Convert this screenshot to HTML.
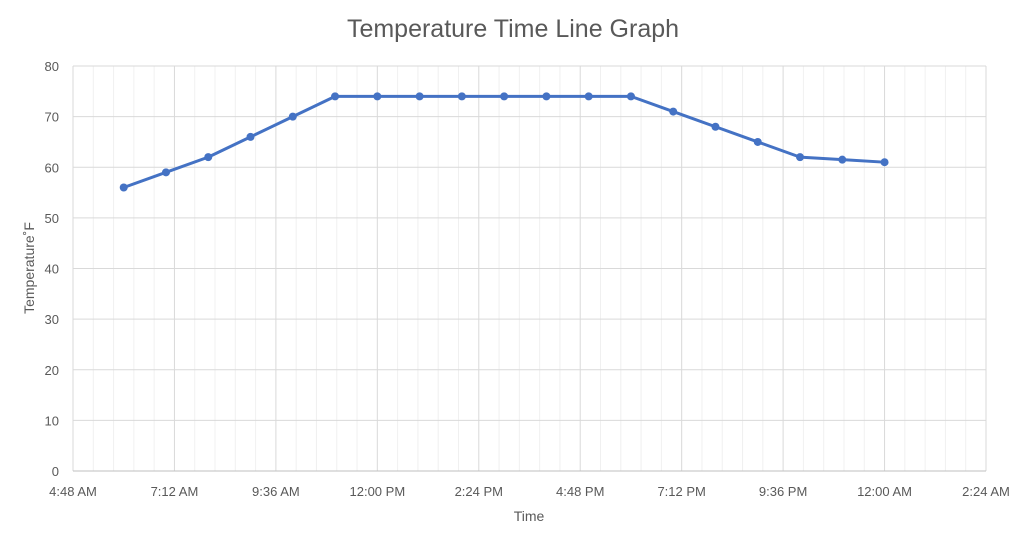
<!DOCTYPE html>
<html><head><meta charset="utf-8"><style>
body{margin:0;background:#fff;}
svg{display:block;font-family:"Liberation Sans",sans-serif;}
</style></head><body>
<svg id="chart" width="1025" height="543">
<text x="513" y="37" text-anchor="middle" font-size="25" fill="#595959">Temperature Time Line Graph</text>
<g id="grid"></g><g id="axes"></g><g id="series"></g>
<text x="529" y="521" text-anchor="middle" font-size="14" fill="#595959">Time</text>
<text transform="translate(34,268) rotate(-90)" text-anchor="middle" font-size="14" fill="#595959">Temperature˚F</text>
</svg>
<script>
const times=[360,420,480,540,600,660,720,780,840,900,960,1020,1080,1140,1200,1260,1320,1380,1440]; // minutes from midnight
const temps=[56,59,62,66,70,74,74,74,74,74,74,74,74,71,68,65,62,61.5,61];
const xTickLabels=["4:48 AM","7:12 AM","9:36 AM","12:00 PM","2:24 PM","4:48 PM","7:12 PM","9:36 PM","12:00 AM","2:24 AM"];
const yTicks=[0,10,20,30,40,50,60,70,80];
const NS="http://www.w3.org/2000/svg";
const X0=73,X1=986,Y0=471,Y1=66,tMin=288,tMax=288+144*9;
const xs=t=>X0+(t-tMin)/(tMax-tMin)*(X1-X0);
const ys=v=>Y0-(v/80)*(Y0-Y1);
function mk(tag,attrs,parent){const e=document.createElementNS(NS,tag);for(const k in attrs)e.setAttribute(k,attrs[k]);parent.appendChild(e);return e;}
const grid=document.getElementById('grid'),axes=document.getElementById('axes'),series=document.getElementById('series');
for(let i=0;i<=45;i++){const t=tMin+i*28.8;const x=xs(t);const major=i%5===0;
 const l=mk('line',{x1:x,x2:x,y1:Y1,y2:Y0,stroke:major?'#d9d9d9':'#f0f0f0','stroke-width':1},grid);
 
 }
yTicks.forEach(v=>{const y=ys(v);
 const l=mk('line',{x1:X0,x2:X1,y1:y,y2:y,stroke:v===0?'#bfbfbf':'#d9d9d9','stroke-width':1},grid);
 
 
 const t=mk('text',{x:X0-14,y:y+5,'text-anchor':'end','font-size':13,fill:'#595959'},axes);t.textContent=v;
 
 });
xTickLabels.forEach((s,i)=>{const x=xs(tMin+i*144);
 const t=mk('text',{x:x,y:496,'text-anchor':'middle','font-size':13,fill:'#595959'},axes);t.textContent=s;
 
 });
const pts=times.map((t,i)=>xs(t)+','+ys(temps[i])).join(' ');
const pl=mk('polyline',{points:pts,fill:'none',stroke:'#4472c4','stroke-width':3,'stroke-linejoin':'round'},series);


times.forEach((t,i)=>{const c=mk('circle',{cx:xs(t),cy:ys(temps[i]),r:4,fill:'#4472c4'},series);
 
 });
</script>
</body></html>
